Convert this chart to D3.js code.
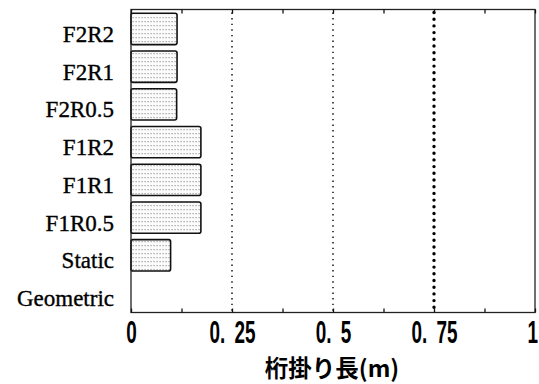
<!DOCTYPE html>
<html>
<head>
<meta charset="utf-8">
<script src="https://cdn.jsdelivr.net/npm/d3@7"></script>
<style>
  html, body { margin: 0; padding: 0; background: #fff; }
  svg { display: block; }
</style>
</head>
<body>
<svg id="chart" width="539" height="384"></svg>
<script>
// Girder seating length by case
const categories = ["F2R2", "F2R1", "F2R0.5", "F1R2", "F1R1", "F1R0.5", "Static", "Geometric"];
const values = [0.114, 0.114, 0.113, 0.173, 0.173, 0.173, 0.098, 0];
const tickValues = [0, 0.25, 0.5, 0.75, 1];
const tickLabels = ["0", "0.\u200225", "0.\u20025", "0.\u200275", "1"];
const minorTicks = [0.125, 0.375, 0.625, 0.875];
const refLines = [0.25, 0.5, 0.75];
const refStyles = ["fine", "fine", "heavy"];
const axisTitle = "桁掛り長(m)";

const svg = d3.select("#chart");
const W = 539, H = 384;
const margin = { top: 9.5, right: 4, bottom: 71.5, left: 131 };
const x0 = margin.left, x1 = W - margin.right;
const y0 = margin.top, y1 = H - margin.bottom;

const x = d3.scaleLinear().domain([0, 1]).range([x0, x1]);
const y = d3.scaleBand().domain(categories).range([y0, y1]).paddingInner(0.17).paddingOuter(0.1);

// dotted screen fill for the bars
const defs = svg.append("defs");
const pat = defs.append("pattern")
  .attr("id", "dots").attr("patternUnits", "userSpaceOnUse")
  .attr("width", 3).attr("height", 4);
pat.append("rect").attr("width", 3).attr("height", 4).attr("fill", "#fbfbfb");
pat.append("rect").attr("x", 0.5).attr("y", 1).attr("width", 1.2).attr("height", 1.2).attr("fill", "#9a9a9a");

// reference lines
refLines.forEach((v, i) => {
  const heavy = refStyles[i] === "heavy";
  svg.append("line")
    .attr("x1", x(v)).attr("x2", x(v))
    .attr("y1", y0 + 3).attr("y2", y1 - 1)
    .attr("stroke", "#000")
    .attr("stroke-width", heavy ? 3.4 : 1.4)
    .attr("stroke-linecap", heavy ? "round" : "butt")
    .attr("stroke-dasharray", heavy ? "0,6.7" : "1.4,4.2");
});

// bars
svg.append("g").selectAll("rect")
  .data(categories.map((c, i) => ({ c, v: values[i] })).filter(d => d.v > 0))
  .join("rect")
  .attr("x", x(0))
  .attr("y", d => y(d.c))
  .attr("width", d => x(d.v) - x(0))
  .attr("height", y.bandwidth())
  .attr("rx", 2)
  .attr("fill", "url(#dots)")
  .attr("stroke", "#111")
  .attr("stroke-width", 1.6);

// frame
svg.append("rect")
  .attr("x", x0).attr("y", y0)
  .attr("width", x1 - x0).attr("height", y1 - y0)
  .attr("fill", "none").attr("stroke", "#222").attr("stroke-width", 1.3);

// inward ticks on bottom and top edges
const allTicks = tickValues.concat(minorTicks);
const bottomAxis = d3.axisBottom(x).tickValues(allTicks).tickSize(-4).tickFormat("");
const topAxis = d3.axisTop(x).tickValues(allTicks).tickSize(-4).tickFormat("");
svg.append("g").attr("transform", `translate(0,${y1})`).call(bottomAxis)
  .call(g => g.select(".domain").remove())
  .selectAll("line").attr("stroke", "#111").attr("stroke-width", 1.3);
svg.append("g").attr("transform", `translate(0,${y0})`).call(topAxis)
  .call(g => g.select(".domain").remove())
  .selectAll("line").attr("stroke", "#111").attr("stroke-width", 1.3);

// tick labels (tall, narrow digits)
const sx = 0.61;
const labelAxis = d3.axisBottom(x).tickValues(tickValues).tickSize(0).tickPadding(0)
  .tickFormat((d, i) => tickLabels[i]);
const lg = svg.append("g").attr("transform", `translate(0,${y1})`).call(labelAxis);
lg.select(".domain").remove();
lg.selectAll("text")
  .attr("y", 30.5).attr("dy", null)
  .style("font-family", '"Liberation Sans", Arial, sans-serif')
  .style("font-weight", "bold")
  .style("font-size", "31px")
  .attr("fill", "#000")
  .attr("transform", `scale(${sx},1)`)
  .filter(d => d === 1)
  .attr("text-anchor", "end")
  .attr("x", 2.5 / sx);

// category labels
const catAxis = d3.axisLeft(y).tickSize(0).tickPadding(17);
const cg = svg.append("g").attr("transform", `translate(${x0},0)`).call(catAxis);
cg.select(".domain").remove();
cg.selectAll("text")
  .attr("dy", null).attr("y", 13)
  .style("font-family", '"Liberation Serif", "Times New Roman", serif')
  .style("font-size", "23px")
  .attr("fill", "#000")
  .attr("stroke", "#000").attr("stroke-width", 0.35);

// axis title
svg.append("text")
  .attr("x", 332).attr("y", 377)
  .attr("text-anchor", "middle")
  .style("font-family", '"Noto Sans CJK JP", sans-serif')
  .style("font-weight", "bold")
  .style("font-size", "23.5px")
  .attr("fill", "#000")
  .text(axisTitle);
</script>
</body>
</html>
